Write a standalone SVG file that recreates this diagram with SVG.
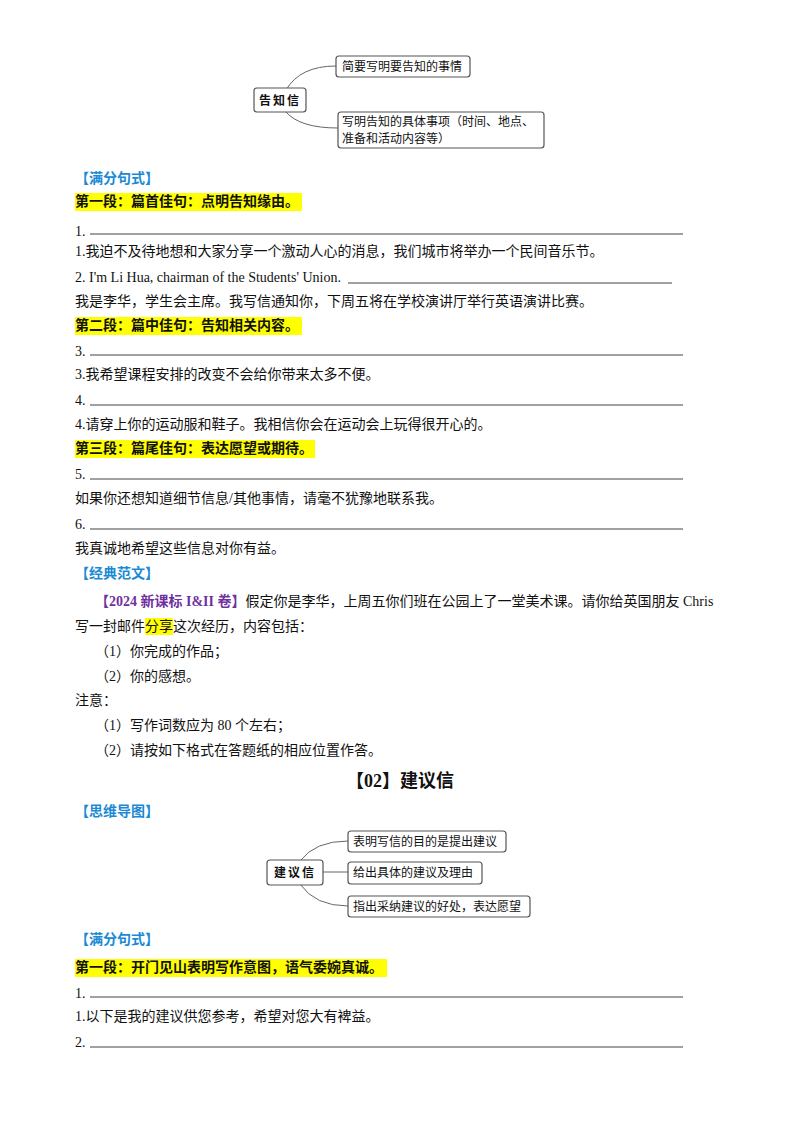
<svg xmlns="http://www.w3.org/2000/svg" width="800" height="1134" viewBox="0 0 800 1134">
<style>
text{font-family:"Liberation Serif","Noto Sans CJK SC",serif;font-size:14px;fill:#111}
.b{font-weight:bold}
.blue{fill:#1a8ad4;font-weight:bold}
.hl{fill:#ffff00}
.ul{stroke:#111;stroke-width:0.8}
.box{fill:#fff;stroke:#555;stroke-width:1.2}
.mm{font-size:12px;font-family:"Noto Sans CJK SC",sans-serif}
.con{fill:none;stroke:#666;stroke-width:1}
</style>
<rect width="800" height="1134" fill="#fff"/>
<g id="connectors">
<path class="con" d="M286,90 Q300,66 336,66"/>
<path class="con" d="M286,112 Q300,128 338,128"/>
<path class="con" d="M300,861 Q315,841 348,841"/>
<path class="con" d="M323,872 L348,872"/>
<path class="con" d="M300,884 Q315,906 348,906"/>
</g>
<g id="n1"><rect class="box" x="254" y="88" width="52" height="24" rx="3"/><text class="mm b" x="280" y="105" text-anchor="middle" letter-spacing="2">告知信</text></g>
<g id="n2"><rect class="box" x="336" y="56" width="134" height="21" rx="3"/><text class="mm" x="342" y="71">简要写明要告知的事情</text></g>
<g id="n3"><rect class="box" x="338" y="112" width="206" height="36" rx="3"/><text class="mm" x="342" y="126">写明告知的具体事项（时间、地点、</text><text class="mm" x="342" y="143">准备和活动内容等）</text></g>
<text class="blue" x="75" y="183">【满分句式】</text>
<rect class="hl" x="75" y="193" width="227" height="18"/>
<text class="b" x="75" y="206">第一段：篇首佳句：点明告知缘由。</text>
<text x="75" y="236">1.</text><line class="ul" x1="90" y1="234" x2="683" y2="234"/>
<text x="75" y="256">1.我迫不及待地想和大家分享一个激动人心的消息，我们城市将举办一个民间音乐节。</text>
<text x="75" y="282">2. I'm Li Hua, chairman of the Students' Union.</text><line class="ul" x1="348" y1="283" x2="672" y2="283"/>
<text x="75" y="306">我是李华，学生会主席。我写信通知你，下周五将在学校演讲厅举行英语演讲比赛。</text>
<rect class="hl" x="75" y="317" width="227" height="18"/>
<text class="b" x="75" y="330">第二段：篇中佳句：告知相关内容。</text>
<text x="75" y="356">3.</text><line class="ul" x1="90" y1="355" x2="683" y2="355"/>
<text x="75" y="379">3.我希望课程安排的改变不会给你带来太多不便。</text>
<text x="75" y="405">4.</text><line class="ul" x1="90" y1="405" x2="683" y2="405"/>
<text x="75" y="429">4.请穿上你的运动服和鞋子。我相信你会在运动会上玩得很开心的。</text>
<rect class="hl" x="75" y="440" width="240" height="18"/>
<text class="b" x="75" y="453">第三段：篇尾佳句：表达愿望或期待。</text>
<text x="75" y="479">5.</text><line class="ul" x1="90" y1="479" x2="683" y2="479"/>
<text x="75" y="503">如果你还想知道细节信息/其他事情，请毫不犹豫地联系我。</text>
<text x="75" y="529">6.</text><line class="ul" x1="90" y1="529" x2="683" y2="529"/>
<text x="75" y="553">我真诚地希望这些信息对你有益。</text>
<text class="blue" x="75" y="578">【经典范文】</text>
<text x="95" y="606"><tspan class="b" fill="#7030a0" style="fill:#7030a0">【2024 新课标 I&amp;II 卷】</tspan>假定你是李华，上周五你们班在公园上了一堂美术课。请你给英国朋友 Chris</text>
<rect class="hl" x="145" y="618" width="28" height="17"/>
<text x="75" y="631">写一封邮件分享这次经历，内容包括：</text>
<text x="95" y="656">（1）你完成的作品；</text>
<text x="95" y="681">（2）你的感想。</text>
<text x="75" y="705">注意：</text>
<text x="95" y="730">（1）写作词数应为 80 个左右；</text>
<text x="95" y="755">（2）请按如下格式在答题纸的相应位置作答。</text>
<text class="b" x="400" y="787" text-anchor="middle" style="font-size:18px">【02】建议信</text>
<text class="blue" x="75" y="816">【思维导图】</text>
<g id="m1"><rect class="box" x="267" y="860" width="56" height="25" rx="3"/><text class="mm b" x="295" y="877" text-anchor="middle" letter-spacing="2">建议信</text></g>
<g id="m2"><rect class="box" x="348" y="831" width="158" height="21" rx="3"/><text class="mm" x="353" y="846">表明写信的目的是提出建议</text></g>
<g id="m3"><rect class="box" x="348" y="862" width="134" height="22" rx="3"/><text class="mm" x="353" y="877">给出具体的建议及理由</text></g>
<g id="m4"><rect class="box" x="348" y="896" width="182" height="21" rx="3"/><text class="mm" x="353" y="911">指出采纳建议的好处，表达愿望</text></g>
<text class="blue" x="75" y="944">【满分句式】</text>
<rect class="hl" x="75" y="959" width="312" height="18"/>
<text class="b" x="75" y="972">第一段：开门见山表明写作意图，语气委婉真诚。</text>
<text x="75" y="998">1.</text><line class="ul" x1="90" y1="997" x2="683" y2="997"/>
<text x="75" y="1021">1.以下是我的建议供您参考，希望对您大有裨益。</text>
<text x="75" y="1047">2.</text><line class="ul" x1="90" y1="1047" x2="683" y2="1047"/>
</svg>
